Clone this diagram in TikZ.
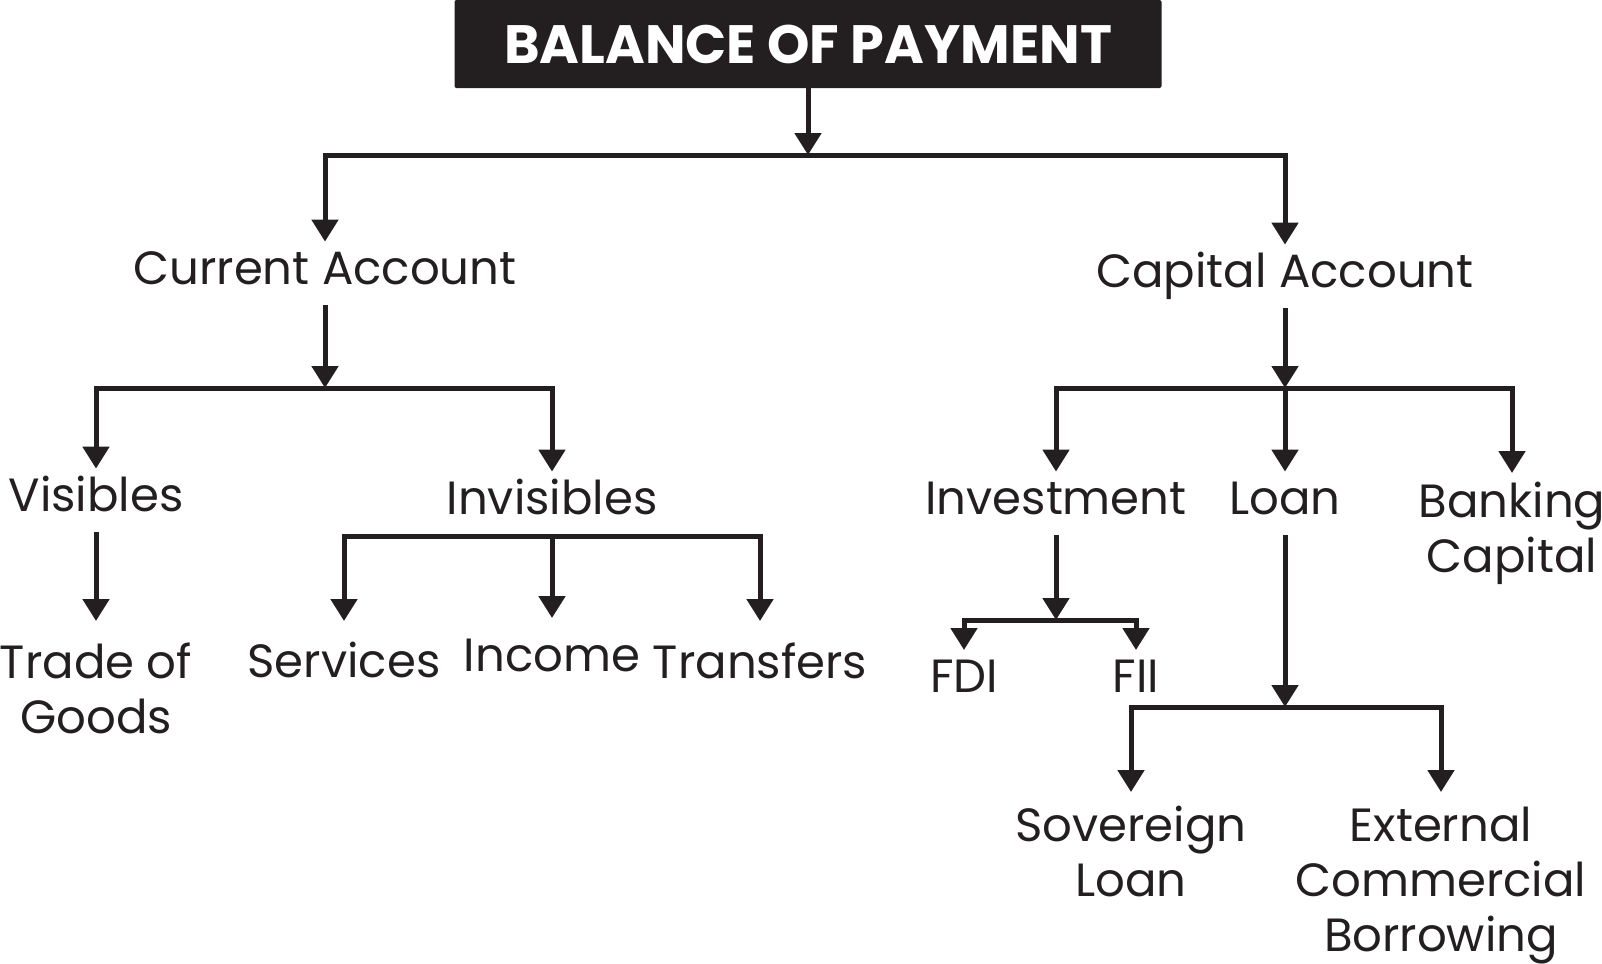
\documentclass[tikz,border=0pt]{standalone}
\usepackage{fontspec}
\setmainfont{Poppins}
\usetikzlibrary{arrows.meta}
\definecolor{ink}{HTML}{231F20}

\begin{document}
\begin{tikzpicture}[x=0.5pt,y=-0.5pt,
		every node/.style={text=ink,font=\fontsize{23.3}{27.5}\selectfont},
		head/.style={fill=ink,text=white,font=\fontsize{27}{30}\selectfont\bfseries,minimum width=353.5pt,minimum height=44pt,inner sep=0pt,rounded corners=1pt},
		lbl/.style={anchor=base,inner xsep=0pt,inner ysep=4pt,text height=17pt,text depth=6.5pt},
		leaf/.style={anchor=north,align=center,inner xsep=0pt,inner ysep=#1},
		leaf/.default=10.5pt,
		arr/.style={draw=ink,line width=2.5pt,-{Triangle[width=13pt,length=11pt]}}]
	\useasboundingbox (0,0) rectangle (1602,964);
	\node[head] (bop) at (808,44) {BALANCE OF PAYMENT};
	\node[lbl] (ca) at (325,284) {Current Account};
	\node[lbl] (kap) at (1285,287) {Capital Account};
	\node[lbl] (vis) at (96,511) {Visibles};
	\node[lbl] (inv) at (552,514) {Invisibles};
	\node[lbl] (invest) at (1056,514) {Investment};
	\node[lbl] (loan) at (1285,514) {Loan};
	\node[leaf=4.5pt] (bank) at (1512,473) {Banking\\Capital};
	\node[leaf] (trade) at (96,621) {Trade of\\Goods};
	\node[leaf] (serv) at (344,621) {Services};
	\node[leaf] (inc) at (552,618) {Income};
	\node[leaf] (trans) at (760,621) {Transfers};
	\node[leaf=5pt] (fdi) at (964,650) {FDI};
	\node[leaf=5pt] (fii) at (1136,650) {FII};
	\node[leaf=7pt] (sov) at (1131,792) {Sovereign\\Loan};
	\node[leaf=7.5pt] (ecb) at (1441,792) {External\\Commercial\\Borrowing};
	\coordinate (bopj) at (808,155);
	\coordinate (caj) at (325,388);
	\coordinate (kapj) at (1285,388);
	\coordinate (invj) at (552,536);
	\coordinate (investj) at (1056,620);
	\coordinate (loanj) at (1285,707);
	\draw[arr] (bop.south) -- (bopj);
	\draw[arr] (bopj) -| (ca.north);
	\draw[arr] (bopj) -| (kap.north);
	\draw[arr] (ca.south) -- (caj);
	\draw[arr] (caj) -| (vis.north);
	\draw[arr] (caj) -| (inv.north);
	\draw[arr] (vis.south) -- (trade.north);
	\draw[arr] (invj) -| (serv.north);
	\draw[arr] (invj) -- (inc.north);
	\draw[arr] (invj) -| (trans.north);
	\draw[arr] (kap.south) -- (kapj);
	\draw[arr] (kapj) -| (invest.north);
	\draw[arr] (kapj) -- (loan.north);
	\draw[arr] (kapj) -| (bank.north);
	\draw[arr] (invest.south) -- (investj);
	\draw[arr] (investj) -| (fdi.north);
	\draw[arr] (investj) -| (fii.north);
	\draw[arr] (loan.south) -- (loanj);
	\draw[arr] (loanj) -| (sov.north);
	\draw[arr] (loanj) -| (ecb.north);
\end{tikzpicture}
\end{document}
